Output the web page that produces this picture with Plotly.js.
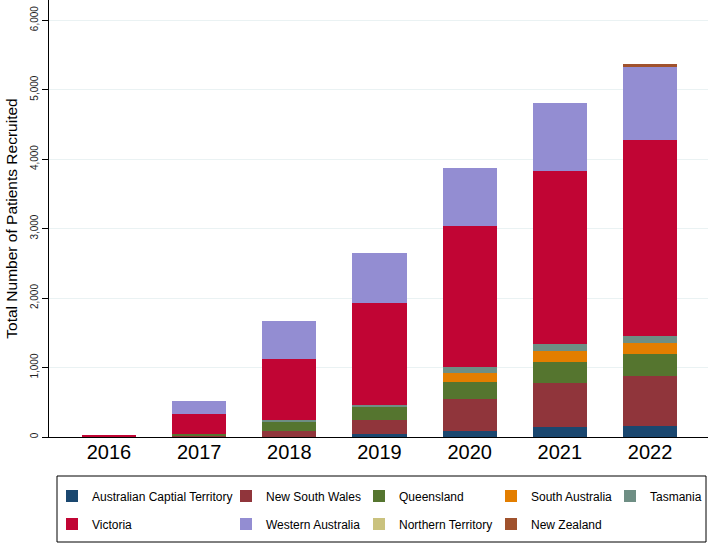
<!DOCTYPE html>
<html>
<head>
<meta charset="utf-8">
<script src="https://cdn.plot.ly/plotly-3.0.1.min.js"></script>
<style>
  body { margin: 0; background: #fff; }
  #chart { width: 708px; height: 545px; }
</style>
</head>
<body>
<div id="chart"></div>
<script>
// recruitment per year, stacked by region
var years = ['2016', '2017', '2018', '2019', '2020', '2021', '2022'];

var act = [0, 0, 0, 43, 86, 140, 163];
var nsw = [4, 15, 91, 202, 456, 637, 719];
var qld = [0, 30, 129, 191, 254, 306, 312];
var sa  = [0, 0, 0, 0, 121, 159, 159];
var tas = [0, 0, 20, 24, 86, 92, 105];
var vic = [18, 285, 878, 1472, 2037, 2493, 2811];
var wa  = [0, 188, 555, 720, 835, 983, 1055];
var nt  = [0, 0, 0, 0, 0, 0, 5];
var nz  = [0, 0, 0, 0, 0, 0, 35];

var names = ['Australian Captial Territory', 'New South Wales', 'Queensland', 'South Australia',
             'Tasmania', 'Victoria', 'Western Australia', 'Northern Territory', 'New Zealand'];
var series = [act, nsw, qld, sa, tas, vic, wa, nt, nz];
var colors = ['#1a476f', '#90353b', '#55752f', '#e37e00', '#6e8e84',
              '#c10534', '#938dd2', '#cac27e', '#a0522d'];
// which legend column each series sits in
var legendIds = ['legend', 'legend2', 'legend3', 'legend4', 'legend5',
                 'legend', 'legend2', 'legend3', 'legend4'];

var data = series.map(function(vals, i) {
    return {
        type: 'bar',
        x: years,
        y: vals,
        name: names[i],
        legend: legendIds[i],
        legendgroup: 'g' + i,
        width: 0.6,
        marker: {color: colors[i], line: {width: 0}},
        hoverinfo: 'x+y+name'
    };
});

function legendAt(px) {
    return {
        x: (px - 49) / 659,
        xanchor: 'left',
        y: -0.1018,
        yanchor: 'top',
        orientation: 'v',
        traceorder: 'grouped',
        tracegroupgap: 9,
        bgcolor: 'rgba(0,0,0,0)',
        borderwidth: 0,
        font: {family: 'Liberation Sans, Arial, sans-serif', size: 12, color: '#000'}
    };
}

var layout = {
    width: 708,
    height: 545,
    margin: {l: 49, r: 0, t: 0, b: 108, autoexpand: false},
    paper_bgcolor: '#fff',
    plot_bgcolor: '#fff',
    barmode: 'stack',
    font: {family: 'Liberation Sans, Arial, sans-serif', color: '#000'},
    xaxis: {
        type: 'category',
        range: [-0.665, 6.643],
        showline: true,
        linecolor: '#000',
        linewidth: 1.2,
        ticks: '',
        ticklabelstandoff: -3,
        showgrid: false,
        zeroline: false,
        tickfont: {size: 20, color: '#000'},
        fixedrange: true
    },
    yaxis: {
        range: [0, 6290],
        tickvals: [0, 1000, 2000, 3000, 4000, 5000, 6000],
        tickformat: ',d',
        tickangle: -90,
        ticks: 'outside',
        ticklen: 6,
        tickcolor: '#000',
        showline: true,
        linecolor: '#000',
        linewidth: 1.2,
        showgrid: true,
        gridcolor: '#eaf2f3',
        gridwidth: 1,
        zeroline: false,
        tickfont: {size: 10, color: '#222'},
        title: {text: 'Total Number of Patients Recruited', font: {size: 15.5, color: '#000'}, standoff: 7},
        automargin: false,
        fixedrange: true
    },
    legend: legendAt(52),
    legend2: legendAt(226),
    legend3: legendAt(359),
    legend4: legendAt(491),
    legend5: legendAt(610),
    shapes: [{
        type: 'rect',
        xref: 'paper', yref: 'paper',
        x0: (57 - 49) / 659, x1: (706 - 49) / 659,
        y0: (437 - 542) / 437, y1: (437 - 476) / 437,
        line: {color: '#000', width: 1},
        fillcolor: 'rgba(0,0,0,0)'
    }]
};

Plotly.newPlot('chart', data, layout, {displayModeBar: false, staticPlot: true});
</script>
</body>
</html>
